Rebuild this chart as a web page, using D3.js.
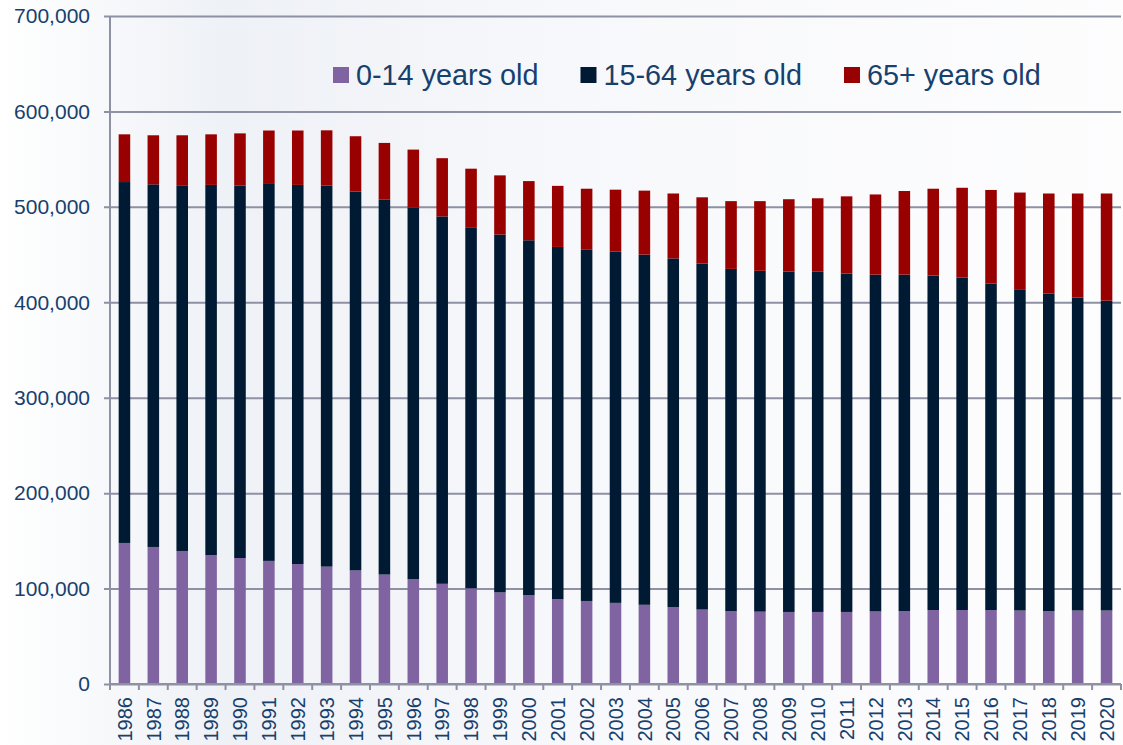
<!DOCTYPE html>
<html>
<head>
<meta charset="utf-8">
<script src="https://cdn.jsdelivr.net/npm/d3@7"></script>
<style>
  body { margin: 0; background: #ffffff; }
  svg { display: block; font-family: "Liberation Sans", Arial, sans-serif; }
</style>
</head>
<body>
<div id="chart"></div>
<script>
// datos
const years = ["1986","1987","1988","1989","1990","1991","1992","1993","1994","1995",
  "1996","1997","1998","1999","2000","2001","2002","2003","2004","2005",
  "2006","2007","2008","2009","2010","2011","2012","2013","2014","2015",
  "2016","2017","2018","2019","2020"];

const age0to14 = [147800,143600,139400,135000,132000,129000,125700,123000,119000,114700,
  110000,105000,100300,96000,93000,89000,87000,85000,83000,80700,
  78000,76500,75800,75500,75500,75500,76000,76500,77500,77500,
  77500,77000,76500,77000,77000];

const age15to64 = [378200,380000,383200,388000,390400,395000,397300,399200,397000,393100,
  389000,385000,377700,375000,372000,369000,368000,368000,367000,365300,
  362500,358500,357200,356800,356500,354500,353000,352500,350500,348500,
  342000,336000,332500,328000,324700];

const age65plus = [50000,51400,52400,53000,54600,56000,57000,58000,58000,59200,
  61000,61000,62000,62000,62000,64000,64000,65000,67000,68000,
  69500,71000,73000,75700,77000,81000,84000,87600,91000,94000,
  98200,102000,105000,109000,112300];

const seriesNames = ["0-14 years old", "15-64 years old", "65+ years old"];
const seriesColors = ["#8064A2", "#001A33", "#990000"];
const yTicks = [0,100000,200000,300000,400000,500000,600000,700000];

document.addEventListener("DOMContentLoaded", () => {
  const W = 1123, H = 745;
  const margin = { top: 16, right: 2, bottom: 61, left: 110 };
  const width = W - margin.left - margin.right;
  const height = H - margin.top - margin.bottom;
  const gridColor = "#8E91A3";
  const textColor = "#17406D";

  const root = d3.select("#chart").append("svg")
    .attr("width", W)
    .attr("height", H);

  // fondo con un degradado suave
  const defs = root.append("defs");
  const grad = defs.append("linearGradient").attr("id", "bg")
    .attr("x1", "0").attr("y1", "0").attr("x2", "1").attr("y2", "0");
  grad.append("stop").attr("offset", "0").attr("stop-color", "#ffffff");
  grad.append("stop").attr("offset", "0.2").attr("stop-color", "#eef1f6");
  grad.append("stop").attr("offset", "0.5").attr("stop-color", "#f7f8fb");
  grad.append("stop").attr("offset", "1").attr("stop-color", "#fdfdfe");
  root.append("rect").attr("width", W).attr("height", H).attr("fill", "url(#bg)");

  const svg = root.append("g")
    .attr("transform", `translate(${margin.left},${margin.top})`);

  const x = d3.scaleBand().domain(years).range([0, width])
    .paddingInner(0.6).paddingOuter(0.3);
  const y = d3.scaleLinear().domain([0, 700000]).range([height, 0]);

  // lineas de la cuadricula + eje y
  const yAxis = svg.append("g")
    .call(d3.axisLeft(y).tickValues(yTicks).tickFormat(d3.format(",")).tickSize(6).tickPadding(14));
  yAxis.select(".domain").remove();
  yAxis.selectAll(".tick line").attr("stroke", gridColor).attr("stroke-width", 2)
    .attr("x2", width).attr("x1", -6);
  yAxis.selectAll(".tick text")
    .attr("fill", textColor)
    .style("font-size", "21px");

  // barras apiladas
  const rows = years.map((yr, i) => ({ year: yr, a: age0to14[i], b: age15to64[i], c: age65plus[i] }));
  const stack = d3.stack().keys(["a", "b", "c"])(rows);

  svg.selectAll("g.serie")
    .data(stack)
    .enter().append("g")
    .attr("class", "serie")
    .attr("fill", (d, i) => seriesColors[i])
    .selectAll("rect")
    .data(d => d)
    .enter().append("rect")
    .attr("x", d => x(d.data.year))
    .attr("width", x.bandwidth())
    .attr("y", d => y(d[1]))
    .attr("height", d => y(d[0]) - y(d[1]));

  // eje vertical
  svg.append("line")
    .attr("x1", 0).attr("x2", 0)
    .attr("y1", 0).attr("y2", height + 6)
    .attr("stroke", gridColor).attr("stroke-width", 2);

  // eje x
  const xAxis = svg.append("g")
    .attr("transform", `translate(0,${height})`)
    .call(d3.axisBottom(x).tickSize(0).tickPadding(0));
  xAxis.select(".domain").remove();
  xAxis.selectAll(".tick text")
    .attr("fill", textColor)
    .style("font-size", "20px")
    .style("text-anchor", "end")
    .attr("transform", "rotate(-90)")
    .attr("x", -13)
    .attr("y", 0)
    .attr("dy", "0.36em");

  svg.append("line")
    .attr("x1", 0).attr("x2", width)
    .attr("y1", height).attr("y2", height)
    .attr("stroke", gridColor).attr("stroke-width", 2);

  // marcas entre categorias
  const step = x.step();
  const bounds = years.map(yr => x(yr) + x.bandwidth() + (step - x.bandwidth()) / 2);
  svg.append("g").selectAll("line")
    .data(bounds)
    .enter().append("line")
    .attr("x1", d => d).attr("x2", d => d)
    .attr("y1", height).attr("y2", height + 6)
    .attr("stroke", gridColor).attr("stroke-width", 2);

  // leyenda
  const legend = root.append("g");
  let lx = 333;
  seriesNames.forEach((name, i) => {
    legend.append("rect")
      .attr("x", lx).attr("y", 67)
      .attr("width", 16).attr("height", 16)
      .attr("fill", seriesColors[i]);
    const t = legend.append("text")
      .attr("x", lx + 23)
      .attr("y", 84.5)
      .attr("fill", textColor)
      .style("font-size", "28.8px")
      .text(name);
    const w = t.node().getComputedTextLength();
    lx = lx + 23 + w + 42;
  });
});
</script>
</body>
</html>
